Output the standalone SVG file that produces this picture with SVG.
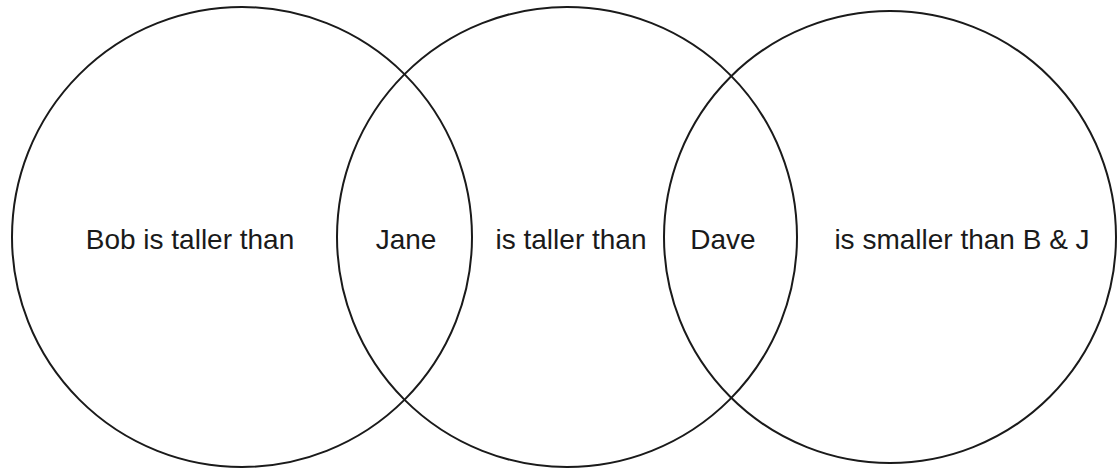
<svg xmlns="http://www.w3.org/2000/svg" width="1118" height="469" viewBox="0 0 1118 469">
<style>
.c{fill:none;stroke:#1a1a1a;stroke-width:2}
.t{font-family:"Liberation Sans",Arial,sans-serif;font-size:28px;fill:#1a1a1a;text-anchor:middle}
</style>
<rect width="1118" height="469" fill="#ffffff"/>
<g id="circle-left"><circle class="c" cx="242" cy="237" r="230"/></g>
<g id="circle-middle"><circle class="c" cx="567" cy="237" r="230"/></g>
<g id="circle-right"><circle class="c" cx="890" cy="237" r="226"/></g>
<g id="connectors"></g>
<g id="label-bob"><text class="t" x="190" y="249">Bob is taller than</text></g>
<g id="label-jane"><text class="t" x="406" y="249">Jane</text></g>
<g id="label-taller"><text class="t" x="571" y="249">is taller than</text></g>
<g id="label-dave"><text class="t" x="723" y="249">Dave</text></g>
<g id="label-smaller"><text class="t" x="962" y="249">is smaller than B &amp; J</text></g>
</svg>
